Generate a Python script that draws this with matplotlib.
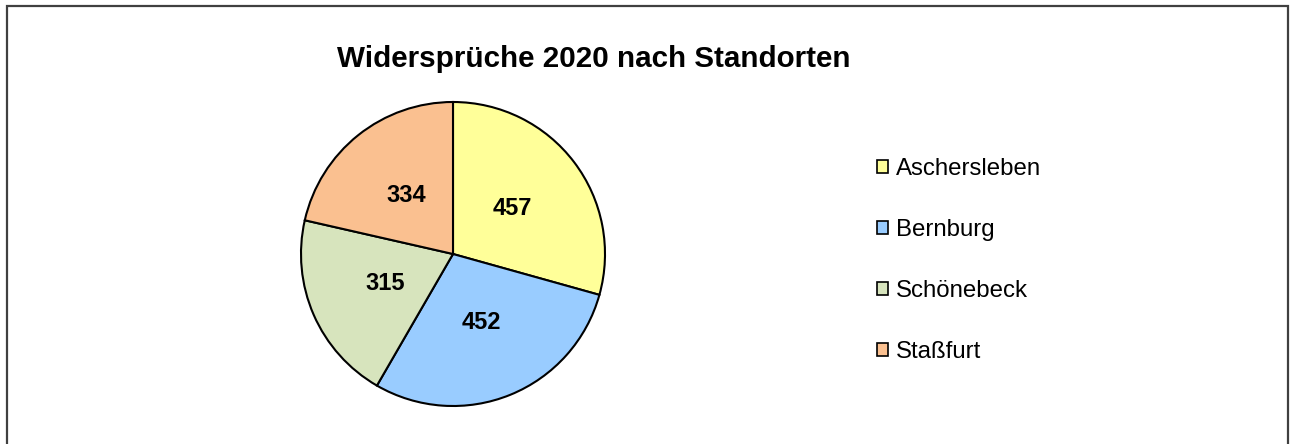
import matplotlib
matplotlib.use("Agg")
import matplotlib.pyplot as plt
from matplotlib.patches import Rectangle, Patch

categories = ["Aschersleben", "Bernburg", "Schönebeck", "Staßfurt"]
values = [457, 452, 315, 334]
colors = ["#FFFF99", "#99CCFF", "#D7E4BD", "#FAC090"]
title = "Widersprüche 2020 nach Standorten"

plt.rcParams['font.family'] = ['Liberation Sans', 'DejaVu Sans']

W, H = 1293, 444
fig = plt.figure(figsize=(W / 100, H / 100), dpi=100)

# outer frame
fig.patches.append(Rectangle((7 / W, -0.05), (1288 - 7) / W, (H - 6) / H + 0.05,
                             transform=fig.transFigure, fill=False,
                             edgecolor="#404040", linewidth=1.6))

cx, cy, r = 453, H - 254, 152
ax = fig.add_axes([(cx - r) / W, (cy - r) / H, 2 * r / W, 2 * r / H])
wedges, texts = ax.pie(values, colors=colors, startangle=90, counterclock=False,
                       labels=[str(v) for v in values], labeldistance=0.49,
                       wedgeprops=dict(edgecolor="black", linewidth=1.5),
                       textprops=dict(fontsize=17, fontweight="bold", ha="center", va="center"))
for t in texts:
    t.set_horizontalalignment("center")
ax.set_xlim(-1, 1)
ax.set_ylim(-1, 1)
ax.set_aspect("equal")

fig.text(594 / W, 1 - 59 / H, title, fontsize=21.3, fontweight="bold",
         ha="center", va="center")

handles = [Patch(facecolor=c, edgecolor="black", linewidth=1.2) for c in colors]
leg = fig.legend(handles, categories, loc="upper left",
                 bbox_to_anchor=(877 / W, 1 - 158 / H), frameon=False,
                 fontsize=17.3, handlelength=0.45, handleheight=0.45,
                 handletextpad=0.33, labelspacing=1.63, borderpad=0, borderaxespad=0)

fig.savefig("out.png", dpi=100, facecolor="white")
